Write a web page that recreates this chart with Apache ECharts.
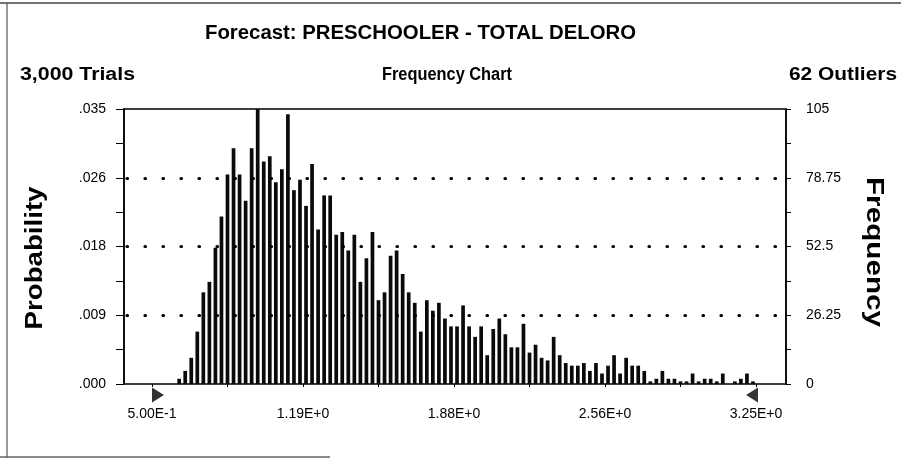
<!DOCTYPE html>
<html><head><meta charset="utf-8">
<script src="https://cdn.jsdelivr.net/npm/echarts@6/dist/echarts.min.js"></script>
<style>html,body{margin:0;padding:0;background:#fff}#c{width:901px;height:466px}</style>
</head><body><div id="c"></div>
<script>
// ---- data ----
const titleText = 'Forecast: PRESCHOOLER - TOTAL DELORO';
const trialsText = '3,000 Trials';
const chartText = 'Frequency Chart';
const outliersText = '62 Outliers';
const leftAxisName = 'Probability';
const rightAxisName = 'Frequency';
// 100 cells spanning the display range 5.00E-1 .. 3.25E+0
const frequencies = [
  0,0,0,0,
  2,5,10,20,35,39,52,64,80,90,80,70,90,105,85,87,77,82,103,74,78,68,84,59,
  72,72,57,58,51,57,39,48,58,32,35,49,51,42,35,31,20,32,28,31,25,22,22,30,22,18,22,11,
  21,25,19,14,14,23,12,15,10,9,18,11,8,7,7,8,5,8,4,7,11,4,10,7,7,
  5,1,2,5,2,2,1,1,4,1,2,2,1,4,0,1,2,4,1
];
const cellNames = frequencies.map((_, i) => 'cell ' + (i + 1));
const rangeMin = 0.5, rangeMax = 3.25;
const xTickValues = [0.5, 1.1875, 1.875, 2.5625, 3.25];
const xTickLabels = ['5.00E-1', '1.19E+0', '1.88E+0', '2.56E+0', '3.25E+0'];
const probLabels = ['.000', '.009', '.018', '.026', '.035'];
const freqLabels = ['0', '26.25', '52.5', '78.75', '105'];
const gridValues = [26.25, 52.5, 78.75];
const freqMax = 105, probMax = 0.035;

const FONT = "'Liberation Sans',Arial,sans-serif";
const measureCtx = document.createElement('canvas').getContext('2d');
function fitScale(text, font, target) {
  measureCtx.font = font;
  return target / measureCtx.measureText(text).width;
}
function headText(text, x, y, align, size, target, rot) {
  const font = 'bold ' + size + 'px ' + FONT;
  const el = {type: 'text', x: x, y: y, scaleX: fitScale(text, font, target),
    style: {text: text, textAlign: align, textVerticalAlign: 'middle', font: font, fill: '#000'}};
  if (rot) el.rotation = rot;
  return el;
}

const chart = echarts.init(document.getElementById('c'), null, {renderer: 'canvas'});
const gTop = 109, gBottom = 82;
chart.setOption({
  animation: false,
  backgroundColor: '#fff',
  grid: [
    {left: 124, right: 115, top: gTop, bottom: gBottom, show: true, borderColor: '#000', borderWidth: 1.5, containLabel: false},
    {left: 152, right: 145, top: gTop, bottom: gBottom, containLabel: false}
  ],
  xAxis: [
    {gridIndex: 0, type: 'value', min: 0, max: 1, show: true,
     axisLine: {show: false}, axisTick: {show: false}, axisLabel: {show: false}, splitLine: {show: false}},
    {gridIndex: 1, type: 'category', data: cellNames, boundaryGap: true, show: false},
    {gridIndex: 1, type: 'value', min: rangeMin, max: rangeMax, interval: (xTickValues[1] - xTickValues[0]) / 2,
     position: 'bottom',
     axisLine: {show: false},
     axisTick: {show: true, length: 3, lineStyle: {color: '#000', width: 1}},
     splitLine: {show: false},
     axisLabel: {show: true, margin: 23, color: '#000', fontFamily: FONT, fontSize: 14,
       showMinLabel: true, showMaxLabel: true,
       formatter: function (v) {
         for (let i = 0; i < xTickValues.length; i++) if (Math.abs(v - xTickValues[i]) < 1e-6) return xTickLabels[i];
         return '';
       }}}
  ],
  yAxis: [
    {gridIndex: 0, type: 'value', position: 'left', min: 0, max: probMax, interval: probMax / 4,
     axisLine: {show: true, lineStyle: {color: '#000', width: 1.5}},
     axisTick: {show: true, length: 8, lineStyle: {color: '#000'}},
     minorTick: {show: true, splitNumber: 2, length: 8, lineStyle: {color: '#000'}},
     splitLine: {show: false},
     axisLabel: {margin: 18, color: '#000', fontFamily: FONT, fontSize: 14,
       formatter: (v, i) => probLabels[i]}},
    {gridIndex: 0, type: 'value', position: 'right', min: 0, max: freqMax, interval: freqMax / 4,
     axisLine: {show: true, lineStyle: {color: '#000', width: 1.5}},
     axisTick: {show: true, length: 5, lineStyle: {color: '#000'}},
     minorTick: {show: true, splitNumber: 2, length: 5, lineStyle: {color: '#000'}},
     splitLine: {show: false},
     axisLabel: {margin: 20, color: '#000', fontFamily: FONT, fontSize: 14,
       formatter: (v, i) => freqLabels[i]}},
    {gridIndex: 1, type: 'value', min: 0, max: freqMax, show: false}
  ],
  series: [
    {type: 'line', xAxisIndex: 0, yAxisIndex: 1, data: [], silent: true,
     markLine: {silent: true, symbol: ['none', 'none'], label: {show: false},
       lineStyle: {color: '#000', width: 3.2, type: [0.5, 17.5], dashOffset: 15, cap: 'round'},
       data: gridValues.map(v => ({yAxis: v}))}},
    {type: 'bar', xAxisIndex: 1, yAxisIndex: 2, data: frequencies, barWidth: 3.7,
     itemStyle: {color: '#0a0a0a'}, silent: true},
    {type: 'scatter', xAxisIndex: 2, yAxisIndex: 2, clip: false, silent: true,
     symbol: 'triangle', symbolSize: [15, 12], itemStyle: {color: '#000'},
     data: [
       {value: [rangeMin, 0], symbolRotate: -90, symbolOffset: [6, 11]},
       {value: [rangeMax, 0], symbolRotate: 90, symbolOffset: [-4, 11]}
     ]}
  ],
  graphic: [
    {type: 'line', shape: {x1: 0, y1: 3, x2: 901, y2: 3}, style: {stroke: '#444', lineWidth: 1.5}},
    {type: 'line', shape: {x1: 7, y1: 3, x2: 7, y2: 458}, style: {stroke: '#555', lineWidth: 1.2}},
    {type: 'line', shape: {x1: 0, y1: 457, x2: 330, y2: 457}, style: {stroke: '#666', lineWidth: 1.5}},
    headText(titleText, 420.5, 33, 'center', 20, 431),
    headText(trialsText, 20, 75, 'left', 18, 115),
    headText(chartText, 447, 75, 'center', 17.5, 130),
    headText(outliersText, 897, 75, 'right', 18, 108),
    headText(leftAxisName, 36, 258, 'center', 23, 143, Math.PI / 2),
    headText(rightAxisName, 873, 252, 'center', 23, 150, -Math.PI / 2)
  ]
});
</script>
</body></html>
